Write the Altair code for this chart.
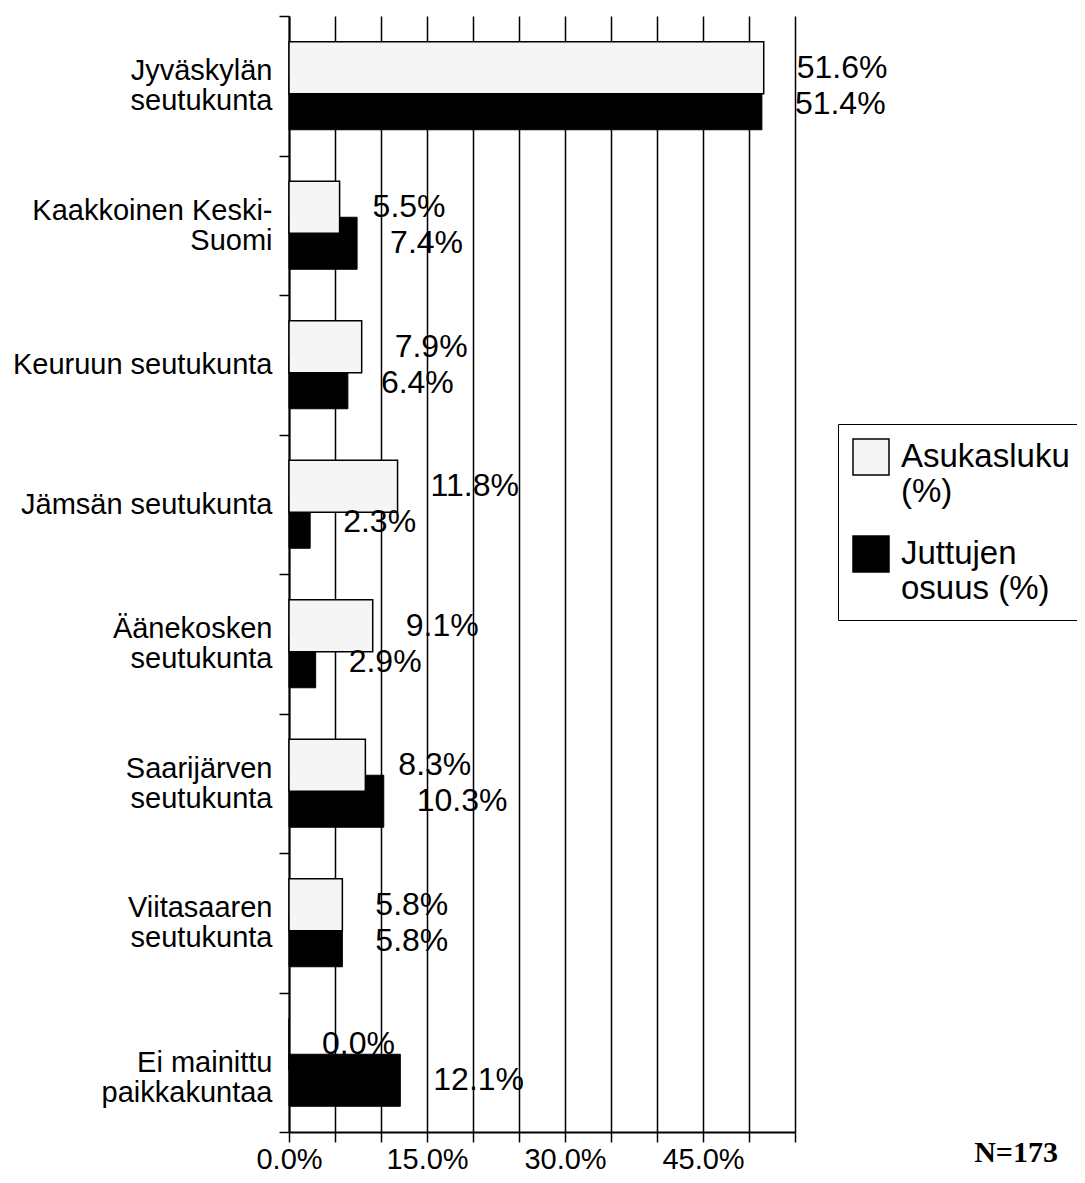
import altair as alt
import pandas as pd

categories = [
    "Jyväskylän|seutukunta",
    "Kaakkoinen Keski-|Suomi",
    "Keuruun seutukunta",
    "Jämsän seutukunta",
    "Äänekosken|seutukunta",
    "Saarijärven|seutukunta",
    "Viitasaaren|seutukunta",
    "Ei mainittu|paikkakuntaa",
]
series = ["Asukasluku (%)", "Juttujen osuus (%)"]
asukasluku = [51.6, 5.5, 7.9, 11.8, 9.1, 8.3, 5.8, 0.0]
juttujen = [51.4, 7.4, 6.4, 2.3, 2.9, 10.3, 5.8, 12.1]
x_ticks = [0, 5, 10, 15, 20, 25, 30, 35, 40, 45, 50, 55]
note = "N=173"

rows = []
for c, a, j in zip(categories, asukasluku, juttujen):
    rows.append({"category": c, "series": series[0], "value": a})
    rows.append({"category": c, "series": series[1], "value": j})
df = pd.DataFrame(rows)

FONT = "Liberation Sans"

y_enc = alt.Y(
    "category:N",
    sort=categories,
    scale=alt.Scale(paddingInner=0, paddingOuter=0),
    axis=alt.Axis(
        title=None,
        labelExpr="split(datum.label, '|')",
        labelFont=FONT,
        labelFontSize=29,
        labelLineHeight=30,
        labelColor="black",
        labelLimit=400,
        labelPadding=7,
        labelBaseline={
            "condition": {
                "test": "indexof(datum.label, '|') >= 0 && indexof(datum.label, 'Ei ') < 0",
                "value": "bottom",
            },
            "value": "middle",
        },
        tickBand="extent",
        tickSize=10,
        tickColor="black",
        tickWidth=1.5,
        domainColor="black",
        domainWidth=2,
    ),
)
x_enc = alt.X(
    "value:Q",
    scale=alt.Scale(domain=[0, 55], nice=False, zero=True),
    axis=alt.Axis(
        title=None,
        values=x_ticks,
        labelExpr="datum.value % 15 == 0 ? format(datum.value, '.1f') + '%' : ''",
        labelFont=FONT,
        labelFontSize=29,
        labelColor="black",
        labelPadding=3,
        labelOverlap=False,
        labelFlush=False,
        grid=True,
        gridColor="black",
        gridWidth=1.5,
        gridOpacity=1,
        tickSize=10,
        tickColor="black",
        tickWidth=1.5,
        domainColor="black",
        domainWidth=2,
    ),
)
color_enc = alt.Color(
    "series:N",
    scale=alt.Scale(domain=series, range=["#f5f5f5", "#000000"]),
    legend=alt.Legend(
        title=None,
        orient="none",
        legendX=549,
        legendY=408,
        strokeColor="black",
        fillColor="white",
        padding=14,
        symbolType="square",
        symbolSize=1296,
        symbolStrokeColor="black",
        symbolStrokeWidth=1.5,
        symbolOpacity=1,
        labelFont=FONT,
        labelFontSize=33,
        labelColor="black",
        labelLimit=400,
        labelOffset=11,
        labelBaseline="middle",
        rowPadding=24,
        labelExpr="datum.label == 'Asukasluku (%)' ? ['Asukasluku', '(%)'] : ['Juttujen', 'osuus (%)']",
    ),
)

base = alt.Chart(df).transform_calculate(
    label="format(datum.value, '.1f') + '%'"
)

black_bars = base.transform_filter(alt.datum.series == series[1]).mark_bar(
    height=52, yOffset=18, stroke="black", strokeWidth=1
).encode(x=x_enc, y=y_enc, color=color_enc)

white_bars = base.transform_filter(alt.datum.series == series[0]).mark_bar(
    height=52, yOffset=-18, stroke="black", strokeWidth=1.5
).encode(x=x_enc, y=y_enc, color=color_enc)

black_text = base.transform_filter(alt.datum.series == series[1]).mark_text(
    align="left", baseline="middle", dx=33, dy=18, font=FONT, fontSize=32, color="black"
).encode(x=x_enc, y=y_enc, text="label:N")

white_text = base.transform_filter(alt.datum.series == series[0]).mark_text(
    align="left", baseline="middle", dx=33, dy=-18, font=FONT, fontSize=32, color="black"
).encode(x=x_enc, y=y_enc, text="label:N")

note_text = alt.Chart(pd.DataFrame({"note": [note]})).mark_text(
    font="Liberation Serif", fontWeight="bold", fontSize=30, align="center",
    baseline="alphabetic", color="black"
).encode(text="note:N", x=alt.value(727), y=alt.value(1146))

chart = alt.layer(black_bars, white_bars, black_text, white_text, note_text).properties(
    width=506,
    height=1116,
    padding={"left": 281, "top": 8, "right": 282, "bottom": 43},
    autosize=alt.AutoSizeParams(type="none"),
).configure_view(stroke=None)

chart.save("out.html", embed_options={"renderer": "svg", "actions": False})
